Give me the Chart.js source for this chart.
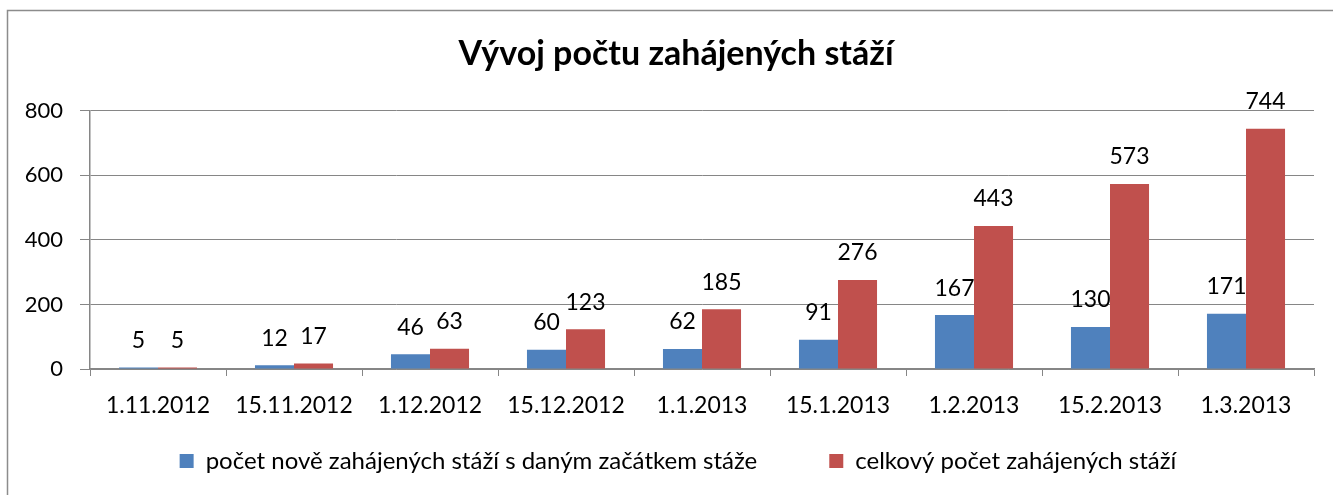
<!DOCTYPE html>
<html>
<head>
<meta charset="utf-8">
<script src="https://cdn.jsdelivr.net/npm/chart.js@4"></script>
<style>
  html, body { margin: 0; padding: 0; background: #fff; }
  #wrap { width: 1333px; height: 495px; position: relative; }
</style>
</head>
<body>
<div id="wrap"><canvas id="graf" width="1333" height="495"></canvas></div>
<script>
// data
const terminy = ['1.11.2012', '15.11.2012', '1.12.2012', '15.12.2012', '1.1.2013',
                 '15.1.2013', '1.2.2013', '15.2.2013', '1.3.2013'];
const noveStaze = [5, 12, 46, 60, 62, 91, 167, 130, 171];
const celkemStaze = [5, 17, 63, 123, 185, 276, 443, 573, 744];
const osaY = [0, 200, 400, 600, 800];

const pismo = 'Lato, "Open Sans", sans-serif';
const sedaCara = '#868686';

// labels above bars, like Excel data labels
const popisky = {
    id: 'popisky',
    afterDatasetsDraw(chart) {
        const ctx = chart.ctx;
        ctx.save();
        ctx.font = '23px ' + pismo;
        ctx.fillStyle = '#000';
        ctx.textAlign = 'center';
        ctx.textBaseline = 'middle';
        chart.data.datasets.forEach((ds, i) => {
            chart.getDatasetMeta(i).data.forEach((bar, j) => {
                ctx.fillText(String(ds.data[j]), bar.x, bar.y - 27);
            });
        });
        ctx.restore();
    }
};

// outer frame of the chart object
const ramecek = {
    id: 'ramecek',
    beforeDraw(chart) {
        const ctx = chart.ctx;
        ctx.save();
        ctx.strokeStyle = '#8c8c8c';
        ctx.lineWidth = 1.5;
        ctx.strokeRect(7.5, 10.5, 1340, 500);
        ctx.restore();
    }
};

// the Excel chart is a bit wider than the picture, so title and legend sit right of
// the plot centre; legend row also has a wide gap between the two items
const posun = {
    id: 'posun',
    afterLayout(chart) {
        const t = chart.titleBlock;
        t.left += 15; t.right += 15;
        const lg = chart.legend;
        lg.left += 17; lg.right += 17;
        lg.top = 377; lg.bottom = 495; lg.height = 118;
    }
};

new Chart(document.getElementById('graf'), {
    type: 'bar',
    data: {
        labels: terminy,
        datasets: [
            {
                label: 'počet nově zahájených stáží s daným začátkem stáže',
                data: noveStaze,
                backgroundColor: '#4F81BD',
                borderWidth: 0,
                categoryPercentage: 0.574,
                barPercentage: 1,
            },
            {
                label: 'celkový počet zahájených stáží',
                data: celkemStaze,
                backgroundColor: '#C0504D',
                borderWidth: 0,
                categoryPercentage: 0.574,
                barPercentage: 1,
            },
        ],
    },
    options: {
        responsive: false,
        animation: false,
        maintainAspectRatio: false,
        devicePixelRatio: 1,
        layout: {
            padding: {left: 8, right: 19, top: 10, bottom: 0}
        },
        plugins: {
            title: {
                display: true,
                text: 'Vývoj počtu zahájených stáží',
                color: '#000',
                font: {family: pismo, size: 34, weight: 'bold'},
                padding: {top: 24, bottom: 36},
            },
            legend: {
                position: 'bottom',
                maxHeight: 40,
                labels: {
                    color: '#000',
                    font: {family: pismo, size: 24},
                    boxWidth: 14,
                    boxHeight: 14,
                    padding: 72,
                }
            },
            tooltip: {enabled: false},
        },
        scales: {
            x: {
                grid: {
                    offset: true,
                    drawOnChartArea: false,
                    color: sedaCara,
                    tickLength: 7,
                },
                border: {color: sedaCara, width: 1.5},
                ticks: {
                    color: '#000',
                    font: {family: pismo, size: 23},
                    padding: 16,
                    maxRotation: 0,
                    autoSkip: false,
                },
                afterFit(scale) { scale.height = 86; },
            },
            y: {
                min: 0,
                max: 800,
                afterBuildTicks(scale) { scale.ticks = osaY.map(v => ({value: v})); },
                grid: {color: sedaCara, tickLength: 10},
                border: {color: sedaCara, width: 1.5},
                ticks: {
                    color: '#000',
                    font: {family: pismo, size: 22},
                    padding: 17,
                },
                afterFit(scale) { scale.width = 82; },
            },
        },
    },
    plugins: [popisky, ramecek, posun],
});
</script>
</body>
</html>
